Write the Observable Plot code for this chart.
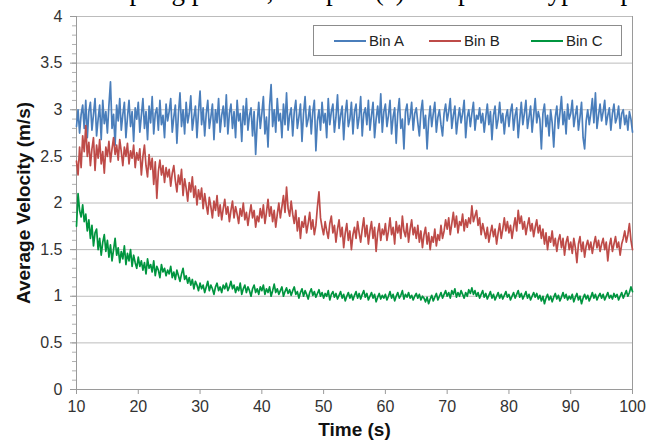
<!DOCTYPE html>
<html><head><meta charset="utf-8">
<script src="https://cdn.jsdelivr.net/npm/d3@7"></script>
<script src="https://cdn.jsdelivr.net/npm/@observablehq/plot@0.6"></script>
<style>
body{margin:0;background:#fff;width:647px;height:448px;overflow:hidden;position:relative;font-family:"Liberation Sans",Arial,sans-serif}
#top{position:absolute;left:0;top:0;width:647px;height:11px;overflow:hidden}
#top span{position:absolute;top:-24px;left:86px;font-family:"Liberation Serif",serif;font-size:27px;white-space:nowrap;color:#000}
#chart{position:absolute;left:0;top:0}
#legend{position:absolute;left:313px;top:25px;width:309px;height:31px;border:1px solid #8c8c8c;background:#fff;box-sizing:border-box;font-size:15px;color:#222}
#legend .sw{position:absolute;top:14px;width:32px;height:0;border-top:2px solid}
#legend .lb{position:absolute;top:6px}
g[aria-label="y-axis label"] text, g[aria-label="x-axis label"] text{font-weight:bold;font-size:19px;fill:#111}
</style></head><body>
<div id="chart"></div>
<div id="top"><span>sampling pattern, and plot (c) compares a typical plot of bin averages</span></div>
<div id="legend"></div>
<script>
const seriesNames = ["Bin A", "Bin B", "Bin C"];
const seriesColors = ["#4A7EBB", "#BE4B48", "#00953F"];
const xTicks = [10, 20, 30, 40, 50, 60, 70, 80, 90, 100];
const yTicks = [0, 0.5, 1, 1.5, 2, 2.5, 3, 3.5, 4];
const yMinorTicks = d3.range(0, 41).map(i => i / 10);
const timeStart = 10, timeStep = 0.25;

const binA = [
2.82,3.00,2.75,2.95,3.05,2.80,3.10,2.70,2.98,3.08,2.78,2.95,3.12,2.72,2.90,3.05,2.68,3.10,2.85,2.98,
2.75,3.05,3.30,2.80,2.95,2.62,3.05,2.88,3.12,2.78,2.95,3.08,2.70,2.92,3.10,2.82,2.98,2.66,3.02,2.90,
3.08,2.76,2.94,3.12,2.80,2.98,2.68,3.04,2.86,3.14,2.74,2.96,3.02,2.78,3.10,2.84,2.94,2.70,3.06,2.88,
2.98,3.12,2.76,2.92,3.05,2.64,2.96,3.18,2.82,3.00,2.74,3.08,2.86,2.96,3.15,2.78,2.92,3.04,2.70,2.98,
3.20,2.84,3.02,2.72,2.96,3.10,2.80,2.92,3.06,2.68,3.00,2.86,3.12,2.76,2.94,3.04,2.82,3.16,2.74,2.96,
3.06,2.80,2.98,2.70,3.10,2.88,2.96,2.66,3.04,2.84,3.12,2.78,2.94,3.02,2.72,2.98,2.52,2.86,3.08,2.80,
2.96,3.14,2.74,2.92,2.60,3.04,3.27,2.82,3.00,2.76,3.12,2.88,2.96,2.70,3.06,2.84,3.18,2.78,2.94,3.02,
2.72,2.98,3.10,2.80,2.92,3.06,2.66,2.96,3.14,2.82,2.90,3.04,2.74,2.98,3.10,2.56,2.88,3.00,2.78,3.08,
2.86,2.96,2.70,3.12,2.84,2.98,3.06,2.76,2.92,3.16,2.80,2.94,3.04,2.68,2.96,3.10,2.82,2.90,3.08,2.74,
2.98,3.06,2.80,2.92,3.14,2.72,2.96,3.02,2.84,3.10,2.78,2.94,3.08,2.70,2.90,3.04,2.86,3.17,2.76,2.98,
3.06,2.82,2.94,3.10,2.74,2.92,3.02,2.64,2.96,3.12,2.80,2.90,2.58,2.98,3.06,2.84,2.92,3.08,2.78,2.96,
3.02,2.86,2.72,2.98,3.10,2.80,2.94,2.58,2.88,3.04,2.82,2.96,3.08,2.76,2.92,3.00,2.84,2.72,2.96,3.06,
2.88,2.98,3.12,2.80,2.94,3.04,2.74,2.90,3.02,2.86,2.96,3.10,2.70,2.92,3.00,2.82,2.96,3.08,2.78,2.94,
2.90,3.02,2.86,2.96,2.76,2.92,3.06,2.84,2.98,2.68,2.94,3.04,2.80,2.90,3.08,2.86,2.96,2.74,2.92,3.00,
2.82,2.98,3.06,2.78,2.94,3.02,2.70,2.90,3.08,2.84,2.96,3.10,2.80,2.92,3.04,2.76,2.94,3.12,2.86,2.98,
2.90,2.58,2.96,3.06,2.82,2.94,2.72,3.00,2.86,2.60,2.92,3.04,2.80,2.96,3.14,2.84,2.98,2.74,3.06,2.90,
2.96,3.10,2.82,2.94,3.04,2.78,2.92,3.08,2.70,2.58,2.88,3.00,2.84,2.96,3.12,2.86,3.18,2.80,2.94,3.06,
2.88,2.98,3.10,2.84,2.94,3.02,2.78,2.96,3.06,2.86,2.92,3.04,2.80,2.96,3.00,2.84,2.94,2.78,2.98,2.90,
2.76];

const binB = [
2.45,2.30,2.60,2.38,2.72,2.55,2.83,2.50,2.65,2.40,2.58,2.70,2.35,2.62,2.48,2.68,2.42,2.55,2.32,2.60,
2.50,2.66,2.44,2.58,2.70,2.52,2.62,2.46,2.68,2.55,2.40,2.60,2.50,2.64,2.42,2.56,2.48,2.62,2.38,2.54,
2.46,2.58,2.30,2.50,2.62,2.40,2.28,2.52,2.36,2.48,2.20,2.44,2.05,2.34,2.46,2.30,2.40,2.22,2.38,2.28,
2.36,2.18,2.32,2.40,2.24,2.12,2.30,2.20,2.36,2.08,2.26,2.16,2.02,2.22,2.12,2.28,2.06,2.18,1.98,2.14,
2.04,2.16,1.94,2.10,1.98,1.88,2.06,1.96,1.84,2.02,1.92,2.08,1.86,1.98,1.82,1.94,2.04,1.88,1.96,1.80,
1.92,2.02,1.84,1.96,1.88,1.78,1.94,1.86,2.00,1.82,1.90,1.76,1.88,1.98,1.84,1.92,1.74,1.86,1.80,1.94,
1.84,1.98,1.78,1.90,2.04,1.86,1.96,1.80,1.92,1.74,1.88,2.00,1.84,1.96,2.08,1.90,2.17,1.94,1.86,2.02,
1.88,1.78,1.92,1.70,1.84,1.62,1.80,1.74,1.86,1.68,1.78,1.90,1.72,1.82,1.66,1.76,1.96,2.12,1.84,1.74,
1.66,1.80,1.70,1.62,1.78,1.86,1.68,1.76,1.58,1.72,1.82,1.64,1.74,1.52,1.68,1.78,1.60,1.70,1.50,1.66,
1.74,1.62,1.80,1.68,1.58,1.72,1.84,1.64,1.76,1.56,1.70,1.80,1.62,1.74,1.48,1.68,1.78,1.60,1.72,1.66,
1.78,1.60,1.70,1.84,1.66,1.74,1.56,1.80,1.68,1.76,1.62,1.86,1.70,1.64,1.78,1.58,1.72,1.82,1.66,1.74,
1.62,1.76,1.58,1.70,1.52,1.66,1.74,1.56,1.68,1.50,1.64,1.58,1.72,1.54,1.66,1.60,1.76,1.62,1.70,1.82,
1.72,1.84,1.66,1.78,1.90,1.74,1.86,1.68,1.80,1.76,1.88,1.70,1.82,1.74,1.84,1.78,1.97,1.80,1.86,1.92,
1.76,1.84,1.66,1.78,1.70,1.62,1.74,1.58,1.68,1.76,1.64,1.72,1.56,1.68,1.78,1.62,1.72,1.84,1.70,1.80,
1.68,1.76,1.62,1.74,1.84,1.70,1.92,1.78,1.86,1.72,1.80,1.66,1.76,1.84,1.70,1.78,1.64,1.74,1.82,1.68,
1.76,1.62,1.72,1.56,1.68,1.50,1.64,1.58,1.70,1.54,1.62,1.48,1.60,1.66,1.52,1.62,1.44,1.58,1.64,1.50,
1.58,1.46,1.62,1.52,1.36,1.56,1.64,1.48,1.58,1.42,1.54,1.60,1.50,1.58,1.46,1.56,1.64,1.52,1.60,1.48,
1.56,1.62,1.50,1.58,1.38,1.54,1.62,1.48,1.56,1.64,1.52,1.58,1.44,1.56,1.62,1.70,1.58,1.66,1.78,1.60,
1.50];

const binC = [
1.75,2.10,1.92,1.85,1.98,1.80,1.88,1.70,1.82,1.62,1.76,1.54,1.68,1.72,1.50,1.62,1.44,1.58,1.66,1.48,
1.60,1.42,1.55,1.38,1.50,1.62,1.44,1.52,1.36,1.48,1.40,1.54,1.34,1.46,1.38,1.50,1.32,1.44,1.36,1.30,
1.42,1.32,1.38,1.28,1.36,1.24,1.40,1.30,1.34,1.26,1.38,1.22,1.32,1.28,1.20,1.34,1.26,1.30,1.22,1.28,
1.24,1.32,1.20,1.26,1.18,1.28,1.22,1.16,1.24,1.30,1.18,1.22,1.14,1.20,1.12,1.18,1.08,1.16,1.12,1.06,
1.14,1.08,1.12,1.04,1.10,1.16,1.06,1.12,1.08,1.02,1.10,1.14,1.06,1.10,1.04,1.12,1.08,1.14,1.06,1.10,
1.16,1.08,1.12,1.04,1.10,1.06,1.14,1.02,1.08,1.12,1.04,1.10,1.06,1.00,1.08,1.12,1.04,1.08,1.02,1.10,
1.06,1.12,1.02,1.08,1.04,1.10,1.00,1.06,1.13,1.04,1.08,1.02,1.06,1.10,1.00,1.05,1.09,1.03,1.07,1.01,
1.06,1.10,1.02,1.05,0.98,1.04,1.08,1.00,1.06,1.02,0.97,1.04,1.08,1.01,1.05,0.99,1.03,1.07,1.00,1.04,
0.98,1.03,1.00,1.06,0.96,1.02,1.05,0.99,1.03,0.97,1.01,1.05,0.98,1.02,0.95,1.00,1.04,0.98,1.02,0.96,
1.01,1.05,0.98,1.03,0.97,1.02,1.06,0.99,1.03,0.96,1.00,1.04,0.98,1.02,0.94,0.99,1.03,0.97,1.01,0.98,
1.02,0.96,1.00,1.05,0.98,1.02,0.95,1.00,1.04,0.98,1.01,1.06,0.97,1.02,0.99,1.04,0.98,1.01,0.96,1.00,
1.03,0.98,1.02,0.96,1.00,0.98,0.94,0.99,0.92,0.97,1.01,0.95,0.99,1.03,0.96,1.00,1.04,0.98,1.02,1.06,
1.00,1.04,0.98,1.06,1.02,1.08,0.99,1.04,1.00,1.06,1.02,0.98,1.04,1.00,1.07,1.03,1.09,1.02,1.06,1.00,
1.04,0.98,1.02,1.06,0.99,1.03,0.97,1.01,1.05,0.98,1.02,0.96,1.00,1.04,0.98,1.02,0.97,1.01,1.05,0.99,
1.02,0.96,1.00,1.04,0.98,1.02,1.06,0.99,1.03,0.97,1.01,1.05,0.98,1.02,0.96,1.00,1.04,0.99,1.03,0.97,
1.01,0.95,1.00,0.92,0.98,1.02,0.96,1.00,0.94,0.99,1.03,0.97,1.01,0.95,0.99,1.04,0.98,1.02,0.96,1.00,
0.97,1.02,0.94,0.99,1.03,0.96,1.00,0.92,0.98,1.02,0.97,1.01,0.95,0.99,1.04,0.98,1.02,0.96,1.00,1.03,
0.98,1.02,0.96,1.00,1.04,0.98,1.01,0.97,1.03,0.99,1.02,0.96,1.00,1.04,0.98,1.02,1.06,1.00,1.04,1.10,
1.05];

const rows = [];
[binA, binB, binC].forEach((vals, k) => {
  vals.forEach((v, i) => rows.push({time: timeStart + i * timeStep, velocity: v, bin: seriesNames[k]}));
});

const chart = Plot.plot({
  width: 647, height: 448,
  marginLeft: 76, marginRight: 15, marginTop: 16, marginBottom: 59,
  style: {fontFamily: "'Liberation Sans', Arial, sans-serif", fontSize: "16px", color: "#333", background: "transparent"},
  x: {domain: [10, 100]},
  y: {domain: [0, 4]},
  color: {domain: seriesNames, range: seriesColors},
  marks: [
    Plot.gridY(yTicks.filter(d => d > 0), {stroke: "#bcbcbc", strokeOpacity: 1, strokeWidth: 1}),
    Plot.ruleX([100], {stroke: "#9a9a9a"}),
    Plot.ruleX([10], {stroke: "#9a9a9a"}),
    Plot.ruleY([0], {stroke: "#9a9a9a"}),
    Plot.axisY(yMinorTicks, {tickSize: 4, text: null, stroke: "#b0b0b0", label: null}),
    Plot.axisY(yTicks, {tickSize: 6, tickPadding: 8, stroke: "#9a9a9a", tickFormat: d => String(d),
      label: "Average Velocity (m/s)", labelAnchor: "center", labelOffset: 60, labelArrow: "none"}),
    Plot.axisX(xTicks, {tickSize: 5, tickPadding: 6, stroke: "#9a9a9a", tickFormat: d => String(d),
      label: "Time (s)", labelAnchor: "center", labelOffset: 46, labelArrow: "none"}),
    Plot.line(rows, {x: "time", y: "velocity", z: "bin", stroke: "bin", strokeWidth: 1.7})
  ]
});
document.getElementById("chart").appendChild(chart);

const legend = document.getElementById("legend");
const swatchX = [20, 115, 217];
seriesNames.forEach((name, k) => {
  const sw = document.createElement("div");
  sw.className = "sw"; sw.style.left = swatchX[k] + "px"; sw.style.borderTopColor = seriesColors[k];
  legend.appendChild(sw);
  const lb = document.createElement("div");
  lb.className = "lb"; lb.style.left = (swatchX[k] + 35) + "px"; lb.textContent = name;
  legend.appendChild(lb);
});
</script>
</body></html>
